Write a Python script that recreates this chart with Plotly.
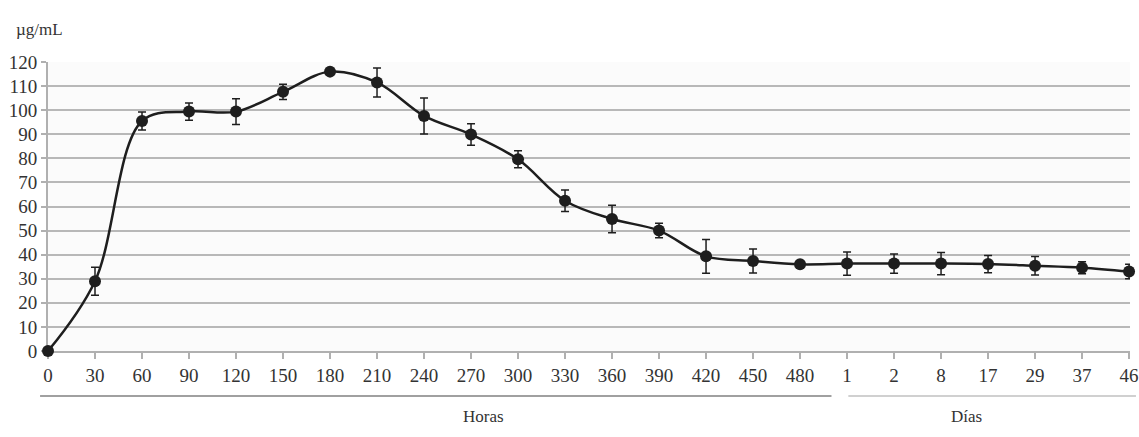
import plotly.graph_objects as go

# Data
tick_labels = ["0", "30", "60", "90", "120", "150", "180", "210", "240", "270", "300", "330",
               "360", "390", "420", "450", "480", "1", "2", "8", "17", "29", "37", "46"]
concentration = [0, 29, 95.5, 99.4, 99.4, 107.6, 116, 111.5, 97.6, 89.9, 79.6, 62.4,
                 54.8, 50, 39.3, 37.4, 36, 36.3, 36.3, 36.3, 36.1, 35.4, 34.6, 33]
error = [0, 5.8, 3.7, 3.6, 5.3, 3.2, 1, 6, 7.5, 4.5, 3.5, 4.5,
         5.7, 3, 7, 5, 1, 4.8, 4, 4.6, 3.6, 3.8, 2.5, 3]
y_ticks = [0, 10, 20, 30, 40, 50, 60, 70, 80, 90, 100, 110, 120]

x_idx = list(range(len(tick_labels)))

W, H = 1139, 437
ml, mr, mt, mb = 48, 0, 62, 86
plot_w = W - ml - mr
plot_h = H - mt - mb
x_end = 23.02


def px_to_paper_x(p):
    return (p - ml) / plot_w


def py_to_paper(p):
    return (H - mb - p) / plot_h


font_family = "'Liberation Serif', 'Times New Roman', serif"
txt = "#333333"

fig = go.Figure()
fig.add_trace(go.Scatter(
    x=x_idx, y=concentration,
    mode="lines+markers",
    line=dict(color="#1e1e1e", width=2.5, shape="spline", smoothing=1.0),
    marker=dict(color="#1e1e1e", size=12, symbol="circle"),
    error_y=dict(type="data", array=error, visible=True, color="#1e1e1e", thickness=1.5, width=4),
    cliponaxis=False,
    showlegend=False,
))

fig.update_layout(
    autosize=True,
    margin=dict(l=ml, r=mr, t=mt, b=mb),
    paper_bgcolor="#ffffff",
    plot_bgcolor="#fbfbfb",
    font=dict(family=font_family, color=txt, size=19),
    xaxis=dict(
        range=[0, x_end],
        tickmode="array", tickvals=x_idx, ticktext=tick_labels,
        showgrid=False, zeroline=False,
        ticks="outside", ticklen=6, tickcolor="#b0b0b0", tickwidth=1.5,
        showline=True, linecolor="#b0b0b0", linewidth=2,
        tickfont=dict(family=font_family, size=19, color=txt),
        ticklabeloverflow="allow",
        layer="below traces",
        fixedrange=True,
    ),
    yaxis=dict(
        range=[0, 120],
        tickmode="array", tickvals=y_ticks, ticktext=[str(v) for v in y_ticks],
        showgrid=True, gridcolor="#b8b8b8", gridwidth=1.5,
        zeroline=False,
        ticks="outside", ticklen=5, tickcolor="#b0b0b0", tickwidth=1.5,
        showline=True, linecolor="#b0b0b0", linewidth=2,
        tickfont=dict(family=font_family, size=19, color=txt),
        layer="below traces",
        fixedrange=True,
    ),
)

line_y = py_to_paper(396)
fig.add_shape(type="line", xref="paper", yref="paper",
              x0=px_to_paper_x(40), x1=px_to_paper_x(838), y0=line_y, y1=line_y,
              line=dict(color="#a0a0a0", width=2))
fig.add_shape(type="line", xref="paper", yref="paper",
              x0=px_to_paper_x(855), x1=px_to_paper_x(1145), y0=line_y, y1=line_y,
              line=dict(color="#c0c0c0", width=1.5))

fig.add_annotation(text="Horas", xref="paper", yref="paper", x=px_to_paper_x(487), y=py_to_paper(428),
                   showarrow=False, font=dict(family=font_family, size=17, color=txt))
fig.add_annotation(text="Días", xref="paper", yref="paper", x=px_to_paper_x(992), y=py_to_paper(428),
                   showarrow=False, font=dict(family=font_family, size=17, color=txt))
fig.add_annotation(text="µg/mL", xref="paper", yref="paper", x=px_to_paper_x(14), y=py_to_paper(18),
                   xanchor="left", showarrow=False, font=dict(family=font_family, size=17, color=txt))

fig.write_html("out.html")
